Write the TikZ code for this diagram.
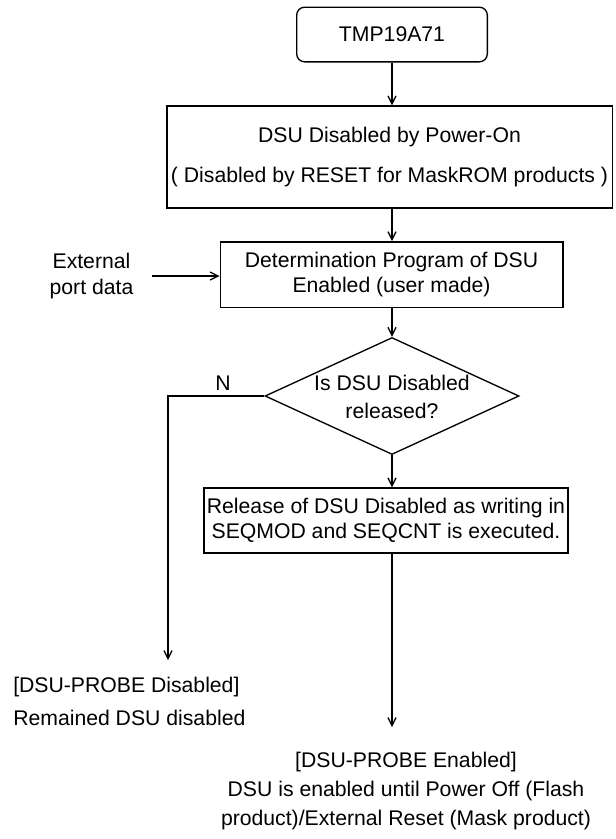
\documentclass[tikz,border=0pt]{standalone}
\usepackage{fontspec}
\setmainfont{Liberation Sans}
\usetikzlibrary{arrows.meta,shapes.geometric,positioning}

\begin{document}
\begin{tikzpicture}[x=.75pt,y=-.75pt,
  every node/.style={font=\fontsize{15.9}{19}\selectfont},
  box/.style={draw,line width=1pt,align=center,inner sep=0pt},
  flow/.style={-{Straight Barb[length=6pt,width=6pt]},line width=1pt}]
\useasboundingbox (0,0) rectangle (616,839);
\node[box,rounded corners=6pt,minimum width=143pt,minimum height=41pt] (start) at (392,34.5){TMP19A71};
\node[box,minimum width=334pt,minimum height=76.5pt] (dis) at (389.5,157){DSU Disabled by Power-On\\[11pt]( Disabled by RESET for MaskROM products )};
\node[box,minimum width=257pt,minimum height=49pt] (det) at (391.5,274.5){Determination Program of DSU\\Enabled (user made)};
\node[align=center,inner sep=0pt] (ext) at (91.5,276){External\\port data};
\coordinate (extin) at (152,276);
\node[box,diamond,minimum width=190.5pt,minimum height=87.75pt] (dia) at (392,396){};
\node[align=center,inner sep=0pt] (diaq) at (392,397){Is DSU Disabled\\[2pt]released?};
\node[inner sep=0pt] (no) at (223,383){N};
\node[box,minimum width=273pt,minimum height=48.75pt] (rel) at (386,520.5){Release of DSU Disabled as writing in\\SEQMOD and SEQCNT is executed.};
\coordinate (noend) at (168,660);
\node[align=left,inner sep=0pt,anchor=west] (off) at (13,701.5){[DSU-PROBE Disabled]\\[5.75pt]Remained DSU disabled};
\coordinate (yesend) at (392,727);
\node[align=center,inner sep=0pt] (on) at (406,791){[DSU-PROBE Enabled]\\[2.4pt]DSU is enabled until Power Off (Flash\\[2.4pt]product)/External Reset (Mask product)};
% connectors
\draw[flow] (start.south) -- (start.south |- dis.north);
\draw[flow] (dis.south -| start.south) -- (det.north -| start.south);
\draw[flow] (extin) -- (extin -| det.west);
\draw[flow] (det.south -| dia.north) -- (dia.north);
\draw[flow,rounded corners=0pt] (dia.west) -| (noend);
\draw[flow] (dia.south) -- (dia.south |- rel.north);
\draw[flow] (dia.south |- rel.south) -- (yesend);
\end{tikzpicture}
\end{document}
